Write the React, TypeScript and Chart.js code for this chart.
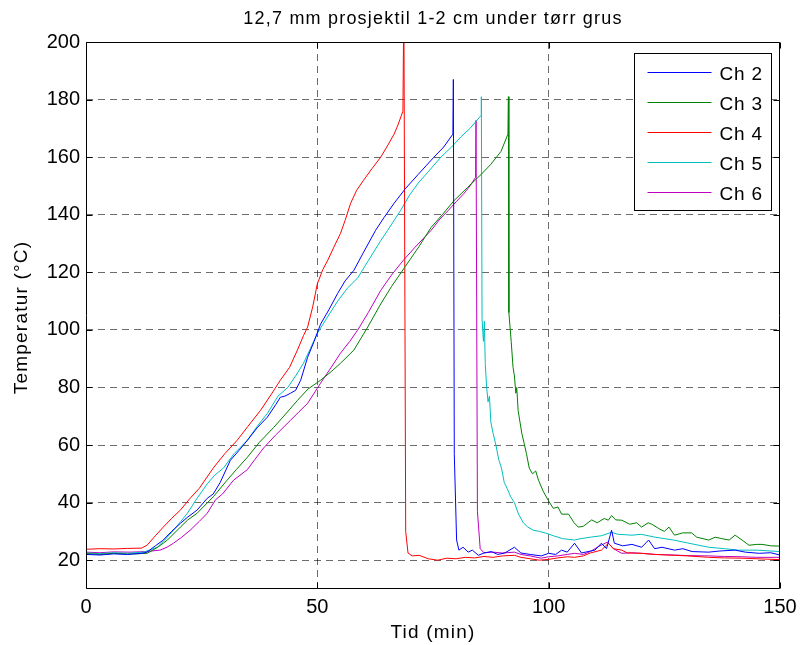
import React, { useEffect, useRef } from "react";
import { Chart, registerables } from "chart.js";

Chart.register(...registerables);

const chartTitle = "12,7 mm prosjektil 1-2 cm under tørr grus";
const xLabel = "Tid (min)";
const yLabel = "Temperatur (°C)";
const xTicks = [0, 50, 100, 150];
const yTicks = [20, 40, 60, 80, 100, 120, 140, 160, 180, 200];
const seriesNames = ["Ch 2", "Ch 3", "Ch 4", "Ch 5", "Ch 6"];
const seriesColors = ["#0000ff", "#008000", "#ff0000", "#00bfbf", "#bf00bf"];

// [time (min), temperature (°C)]
const ch2: [number, number][] = [
  [0, 22], [3, 21.8], [6, 22.2], [9, 22], [12, 22.4], [13.2, 22.8], [15, 25], [16.7, 27], [18.5, 30],
  [20.4, 32.8], [22, 35], [24, 37.4], [26.2, 41.5], [27.5, 43], [29, 47], [31.2, 54.7], [33, 58],
  [34.9, 61.7], [37, 66], [39.2, 69.7], [41, 74], [42, 76.6], [43, 77], [44.2, 78], [45.3, 79],
  [46.4, 82.5], [47.9, 90.5], [49.3, 96], [50.7, 102], [52.5, 107], [54.4, 112.7], [56, 117],
  [57.9, 120.7], [60, 127], [62.6, 134.6], [64.4, 139], [66.6, 144], [69, 149], [71.8, 154],
  [73.5, 157], [75.2, 160], [77.3, 163.5], [79.3, 168], [79.4, 187], [79.6, 57], [80.1, 27],
  [80.6, 23.5], [81.5, 24.5], [82.6, 22.8], [83.5, 23.5], [84.8, 21.7], [86, 22.5], [87.6, 23],
  [89, 22], [90.5, 22.5], [92.6, 24.5], [94, 22.5], [96, 22], [98.4, 21.5], [100, 22.4], [101.5, 22],
  [102.8, 23.5], [104, 22.8], [105.6, 25.9], [107.1, 22.5], [108.5, 23], [110, 23.5], [111.4, 25.9],
  [112.5, 24], [113.6, 30.4], [114.2, 25.9], [116, 25], [118, 25.5], [120.1, 24.5], [121.6, 27],
  [122.9, 24], [124.5, 24.5], [127.2, 23.5], [129, 24], [131, 23], [134.6, 22.8], [137, 23.2],
  [140.3, 23.5], [142.5, 22.8], [145.5, 22.4], [148, 22.6], [150, 21.8],
];

const ch3: [number, number][] = [
  [0, 22.3], [3, 22], [6, 22.4], [9, 22.1], [12, 22.3], [13.2, 22.4], [15.5, 24.5], [17.6, 27],
  [20.4, 31.5], [22, 34], [24, 36.3], [27.5, 42], [30.5, 47.8], [32.5, 51.5], [34.9, 55.8],
  [37.5, 61], [40.5, 66], [43, 70.5], [45.7, 75.5], [48, 79.5], [50.7, 82.5], [53, 85.5], [55, 88.4],
  [57.9, 93], [60.9, 101], [63.7, 109], [66, 115], [69, 122], [72, 129], [74.6, 135.6], [77, 140],
  [79.6, 145], [82.5, 149.5], [85.4, 154], [87.5, 157.5], [89.7, 162], [91.2, 168], [91.3, 181],
  [91.4, 106], [91.9, 96], [92.3, 87], [92.6, 84], [92.9, 78], [93.1, 80], [93.4, 72], [93.8, 68],
  [94.2, 64], [94.7, 60.6], [95.2, 57], [95.8, 52], [96.5, 50], [97.2, 51], [97.8, 47.8], [98.8, 44],
  [99.9, 40.8], [101, 38], [102, 38.5], [102.8, 36], [104.3, 36], [105.5, 33], [106.4, 31.5],
  [107.5, 31.8], [109.3, 34], [110.5, 33], [112, 34.5], [112.9, 33.9], [113.6, 35.5], [114.5, 34],
  [115.8, 33.9], [117.5, 32.5], [119, 33], [120.1, 31.5], [121.5, 33], [122.3, 32.5], [123.8, 31],
  [125, 30], [126, 31.5], [127.2, 28.7], [129, 29.5], [130.9, 29.5], [132, 28], [134.6, 27], [136, 28],
  [137.4, 27.5], [139, 27], [140.3, 28.7], [141.8, 27], [143.3, 25.2], [145, 25.5], [146.1, 25.5],
  [148, 25], [150, 24.9],
];

const ch4: [number, number][] = [
  [0, 23.8], [3, 24], [6, 23.9], [9, 24.1], [12, 24.2], [13.2, 25.2], [15, 28.5], [16.7, 31.5],
  [18.5, 34.5], [20.4, 37.4], [22.5, 41.5], [24.5, 45], [27.5, 52], [30, 57], [32.7, 61.7], [35, 66.5],
  [37.7, 72], [40, 77.5], [42, 82.5], [44, 87], [45.7, 93], [47, 98], [47.9, 101], [49, 108], [50, 116],
  [51.2, 121], [52.2, 124], [53.5, 128.5], [55, 133.5], [56, 138], [57.2, 144], [58.5, 148.5],
  [60, 152], [61.8, 156], [63.7, 160], [65, 163.5], [66.6, 168], [67.5, 171.5], [68.5, 176],
  [68.7, 215], [69.1, 30], [69.6, 22.5], [70.5, 21.5], [72, 21.7], [74, 20.5], [76, 20], [78, 20.7],
  [80, 20.5], [82, 21], [84, 20.8], [86, 21.3], [88, 21], [90, 21.5], [92.6, 21.7], [94, 21],
  [96, 20.5], [98, 20], [100, 20.3], [102, 20.8], [104, 21.2], [105.6, 21], [107.5, 21.5], [109, 22.5],
  [111.4, 23.5], [112.9, 25.9], [114, 24], [115.8, 23.5], [117, 22.5], [120, 22.4], [123, 22],
  [127.2, 21.7], [130, 21.5], [134.6, 21], [138, 20.8], [141.8, 20.7], [145, 20.5], [150, 20.2],
];

const ch5: [number, number][] = [
  [0, 22.5], [3, 22.3], [6, 22.6], [9, 22.4], [12.4, 22.8], [15.4, 24.5], [17, 27], [18.9, 30.4],
  [20.5, 33.5], [21.9, 36.3], [24, 41.5], [26.2, 46.5], [27.8, 49.5], [29.7, 52], [32, 57],
  [34.9, 61.7], [37, 66.5], [39.2, 71], [41.5, 77], [43.6, 80], [45.3, 84], [47, 88.4], [48.5, 93.5],
  [50, 98.8], [52, 104], [54.4, 110], [56.5, 114.5], [58.7, 118], [61, 124], [63.7, 131],
  [65.2, 134.6], [68, 141.5], [70, 147], [71.8, 151], [74, 155], [76.7, 160], [79, 163.5], [81, 167],
  [83, 170], [85.4, 174.5], [85.45, 181], [85.6, 104], [85.9, 96], [86.1, 103], [86.3, 88],
  [86.6, 80], [86.9, 75], [87.2, 77], [87.5, 68], [88, 64], [88.6, 60], [89.2, 55], [89.8, 52],
  [90.4, 47], [91, 45], [91.8, 42], [92.6, 40], [93.5, 36], [94.5, 33], [95.5, 31.5], [96.7, 30.4],
  [98, 30], [99.4, 29.4], [101, 28.5], [103, 27.5], [105.6, 27], [107, 27.5], [109, 28], [111.4, 28.5],
  [113.6, 29.7], [115, 29], [118, 28.7], [120, 29], [123, 28], [127, 27], [130, 26], [134.6, 24.5],
  [138, 24], [141, 23.5], [145, 23.5], [150, 23],
];

const ch6: [number, number][] = [
  [0, 22.8], [3, 22.6], [6, 22.9], [9.5, 22.8], [13, 23], [16, 23.5], [17.5, 24.5], [18.9, 25.9],
  [20.7, 28], [22.5, 30.4], [24.5, 33.5], [26.2, 36.3], [28, 41], [29.5, 43], [31.9, 47.8],
  [34.9, 51.5], [36.5, 55], [38.4, 59], [41, 63.5], [44.2, 68.6], [46, 71.5], [47.9, 74.5], [49.3, 78],
  [50.7, 81.5], [53, 87], [55, 91.9], [57, 96], [58.7, 99.9], [61, 106], [63.7, 113.7], [66, 119],
  [68.5, 124], [71, 128.5], [74.6, 134.6], [76.5, 138.5], [78.3, 141.5], [80, 144.5], [81.7, 147.4],
  [83, 150], [84.2, 153], [84.3, 172.8], [84.6, 37], [85.2, 24], [86, 22.6], [88, 22.8], [90, 22.5],
  [92.6, 22.8], [94, 22], [96, 21.5], [98.4, 20.7], [100, 21.2], [102, 21.5], [104, 22], [105.6, 22.4],
  [107.5, 22], [109, 23], [110.5, 24.5], [112.7, 26.3], [114, 24], [115.8, 22.4], [118, 22.6],
  [120, 22.4], [123, 22], [127.2, 21.8], [130, 21.6], [134.6, 21.5], [138, 21.3], [141.8, 21.2],
  [145, 21], [150, 21],
];

const seriesData = [ch2, ch3, ch4, ch5, ch6];

const FONT = "'Liberation Sans', Arial, Helvetica, sans-serif";
const GRID = "rgba(0,0,0,0.58)";

const framePlugin = {
  id: "matlabFrame",
  afterDraw(chart: any) {
    const { ctx, chartArea: a, scales } = chart;
    ctx.save();
    // axes box
    ctx.strokeStyle = "#000";
    ctx.lineWidth = 1;
    const L = Math.round(a.left) + 0.5;
    const R = Math.round(a.right) - 0.5;
    const T = Math.round(a.top) + 0.5;
    const B = Math.round(a.bottom) - 0.5;
    ctx.beginPath();
    ctx.rect(L, T, R - L, B - T);
    ctx.stroke();
    // inward ticks
    const tl = 6;
    ctx.beginPath();
    xTicks.forEach((v) => {
      const px = Math.round(scales.x.getPixelForValue(v)) + 0.5;
      ctx.moveTo(px, B);
      ctx.lineTo(px, B - tl);
      ctx.moveTo(px, T);
      ctx.lineTo(px, T + tl);
    });
    yTicks.forEach((v) => {
      const py = Math.round(scales.y.getPixelForValue(v)) + 0.5;
      ctx.moveTo(L, py);
      ctx.lineTo(L + tl, py);
      ctx.moveTo(R, py);
      ctx.lineTo(R - tl, py);
    });
    ctx.stroke();

    const cx = (a.left + a.right) / 2;
    const cy = (a.top + a.bottom) / 2;

    // title
    ctx.fillStyle = "#000";
    (ctx as any).letterSpacing = "1.2px";
    ctx.font = `18px ${FONT}`;
    ctx.textAlign = "center";
    ctx.textBaseline = "alphabetic";
    ctx.fillText(chartTitle, cx, 24);

    // axis titles
    (ctx as any).letterSpacing = "1.2px";
    ctx.font = `19px ${FONT}`;
    ctx.fillText(xLabel, cx, 638);
    ctx.save();
    ctx.translate(27, cy + 2);
    ctx.rotate(-Math.PI / 2);
    ctx.fillText(yLabel, 0, 0);
    ctx.restore();

    // legend
    const bx = Math.round(a.right) - 145.5;
    const by = Math.round(a.top) + 11.5;
    const bw = 137;
    const bh = 157;
    ctx.fillStyle = "#fff";
    ctx.fillRect(bx, by, bw, bh);
    ctx.strokeStyle = "#000";
    ctx.strokeRect(bx, by, bw, bh);
    (ctx as any).letterSpacing = "0.8px";
    ctx.font = `19px ${FONT}`;
    ctx.textAlign = "left";
    ctx.textBaseline = "alphabetic";
    seriesNames.forEach((name, i) => {
      const ly = Math.round(by + 18 + i * 30) + 0.5;
      ctx.strokeStyle = seriesColors[i];
      ctx.lineWidth = 1;
      ctx.beginPath();
      ctx.moveTo(bx + 13, ly);
      ctx.lineTo(bx + 77, ly);
      ctx.stroke();
      ctx.fillStyle = "#000";
      ctx.fillText(name, bx + 85, ly + 7);
    });
    ctx.restore();
  },
};

export default function App() {
  const canvasRef = useRef<HTMLCanvasElement | null>(null);

  useEffect(() => {
    if (!canvasRef.current) return;
    Chart.defaults.font.family = FONT;
    const datasets = seriesNames.map((name, i) => ({
      label: name,
      data: seriesData[i].map(([x, y]) => ({ x, y })),
      borderColor: seriesColors[i],
      backgroundColor: seriesColors[i],
      borderWidth: 1,
      pointRadius: 0,
      tension: 0,
      fill: false,
    }));
    const chart = new Chart(canvasRef.current, {
      type: "line",
      data: { datasets },
      plugins: [framePlugin],
      options: {
        responsive: false,
        animation: false,
        devicePixelRatio: 1,
        layout: { padding: { top: 42, right: 20, left: 0, bottom: 0 } },
        plugins: {
          legend: { display: false },
          title: { display: false },
          tooltip: { enabled: false },
        },
        scales: {
          x: {
            type: "linear",
            min: 0,
            max: 150,
            afterBuildTicks: (s: any) => {
              s.ticks = xTicks.map((v) => ({ value: v }));
            },
            afterFit: (s: any) => {
              s.height = 56;
              s.paddingLeft = 0;
              s.paddingRight = 0;
            },
            ticks: {
              color: "#000",
              font: { size: 20, family: FONT },
              padding: 6,
              maxRotation: 0,
              autoSkip: false,
            },
            grid: {
              drawTicks: false,
              lineWidth: 1,
              color: (c: any) =>
                c.tick && (c.tick.value === 0 || c.tick.value === 150) ? "rgba(0,0,0,0)" : GRID,
            },
            border: { display: false, dash: [7, 5] },
            title: { display: false },
          },
          y: {
            type: "linear",
            min: 10,
            max: 200,
            afterBuildTicks: (s: any) => {
              s.ticks = yTicks.map((v) => ({ value: v }));
            },
            afterFit: (s: any) => {
              s.width = 86;
              s.paddingTop = 0;
              s.paddingBottom = 0;
            },
            ticks: {
              color: "#000",
              font: { size: 20, family: FONT },
              padding: 6,
              autoSkip: false,
            },
            grid: {
              drawTicks: false,
              lineWidth: 1,
              color: (c: any) => (c.tick && c.tick.value === 200 ? "rgba(0,0,0,0)" : GRID),
            },
            border: { display: false, dash: [7, 5] },
            title: { display: false },
          },
        },
      },
    } as any);
    return () => chart.destroy();
  }, []);

  return (
    <div style={{ position: "absolute", left: 0, top: 0, width: 800, height: 645, background: "#fff" }}>
      <canvas ref={canvasRef} width={800} height={645} style={{ display: "block" }} />
    </div>
  );
}
